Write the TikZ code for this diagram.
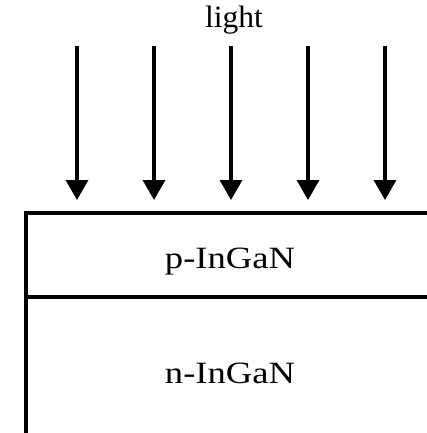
\documentclass[tikz,border=0pt]{standalone}
\usepackage{fontspec}
\setmainfont{Liberation Serif}
\usetikzlibrary{arrows.meta}
\tikzset{
  layerline/.style={line width=3.5pt, line cap=rect},
  ray/.style={line width=3.5pt, -{Triangle[length=20pt, width=22pt]}},
  layerlabel/.style={font=\fontsize{31}{33}\selectfont, inner sep=0pt, anchor=base},
}
\begin{document}
\begin{tikzpicture}[x=1pt, y=-1pt]
  \useasboundingbox (0,0) rectangle (427,433);
  \clip (0,0) rectangle (427,433);

  % light label
  \node[layerlabel] (light) at (234,28) {\scalebox{1.02}[1]{light}};

  % incident rays
  \foreach \i/\x in {1/77, 2/154, 3/231, 4/308, 5/385} {
    \coordinate (s\i) at (\x,46);
    \coordinate (e\i) at (\x,200);
    \draw[ray] (s\i) -- (e\i);
  }

  % layer stack (extends past the right and bottom edges)
  \coordinate (tl) at (26,213);
  \coordinate (tr) at (440,213);
  \coordinate (ml) at (26,297);
  \coordinate (mr) at (440,297);
  \coordinate (bl) at (26,445);
  \draw[layerline] (bl) -- (tl) -- (tr);
  \draw[layerline] (ml) -- (mr);

  % layer labels
  \node[layerlabel] (p) at (230,268) {\scalebox{1.18}[1]{p-InGaN}};
  \node[layerlabel] (n) at (230,383) {\scalebox{1.18}[1]{n-InGaN}};
\end{tikzpicture}
\end{document}
